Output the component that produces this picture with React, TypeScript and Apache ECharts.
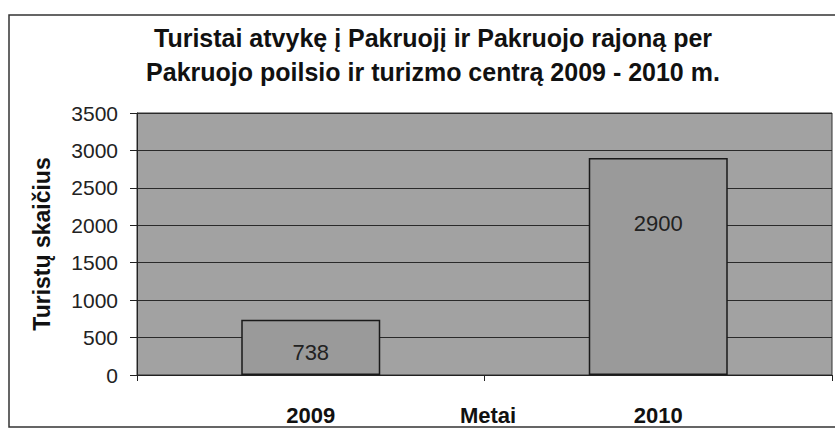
import React, { useEffect, useRef } from "react";
import * as echarts from "echarts";

const categories = ["2009", "2010"];
const tourists = [738, 2900];
const yTicks = [0, 500, 1000, 1500, 2000, 2500, 3000, 3500];
const titleLines = [
  "Turistai atvykę į Pakruojį ir Pakruojo rajoną per",
  "Pakruojo poilsio ir turizmo centrą 2009 - 2010 m.",
];
const xName = "Metai";
const yName = "Turistų skaičius";

const FONT = '"Liberation Sans", Arial, sans-serif';
const labelPositions = [["50%", "60%"], ["50%", "30%"]];

export default function App() {
  const ref = useRef<HTMLDivElement>(null);
  useEffect(() => {
    if (!ref.current) return;
    const chart = echarts.init(ref.current, undefined, { renderer: "svg" });
    chart.setOption({
      animation: false,
      backgroundColor: "#ffffff",
      title: {
        text: titleLines.join("\n"),
        left: 433,
        top: 21,
        padding: 0,
        textAlign: "center",
        textStyle: {
          fontFamily: FONT,
          fontWeight: "bold",
          fontSize: 25,
          lineHeight: 34,
          color: "#111",
        },
      },
      graphic: [
        {
          type: "rect",
          silent: true,
          z: -1,
          shape: { x: 9, y: 15, width: 840, height: 412 },
          style: { fill: "none", stroke: "#333", lineWidth: 1.5 },
        },
        {
          type: "text",
          silent: true,
          x: 488,
          y: 415,
          style: {
            text: xName,
            align: "center",
            verticalAlign: "middle",
            fontFamily: "Liberation Sans",
            fontWeight: "bold",
            fontSize: 22,
            fill: "#111",
          },
        },
      ],
      grid: {
        left: 137,
        top: 113,
        right: 3,
        bottom: 55,
        outerBoundsMode: "none",
        containLabel: false,
        show: true,
        backgroundColor: "#a2a2a2",
        borderColor: "#333",
        borderWidth: 1,
      },
      xAxis: {
        type: "category",
        data: categories,
        axisLine: { lineStyle: { color: "#222", width: 1 } },
        axisTick: { show: true, alignWithLabel: false, length: 6, lineStyle: { color: "#222" } },
        axisLabel: {
          margin: 29,
          fontFamily: FONT,
          fontWeight: "bold",
          fontSize: 22,
          color: "#111",
        },
      },
      yAxis: {
        type: "value",
        min: 0,
        max: 3500,
        interval: 500,
        name: yName,
        nameLocation: "middle",
        nameGap: 84,
        nameTextStyle: { fontFamily: FONT, fontWeight: "bold", fontSize: 23, color: "#111" },
        axisLine: { show: true, lineStyle: { color: "#222", width: 1 } },
        axisTick: { show: true, length: 7, lineStyle: { color: "#222" } },
        axisLabel: {
          margin: 19,
          fontFamily: FONT,
          fontSize: 21,
          color: "#222",
          formatter: (v: number) => (yTicks.includes(v) ? String(v) : ""),
        },
        splitLine: { show: true, lineStyle: { color: "#2a2a2a", width: 1 } },
      },
      series: [
        {
          type: "bar",
          data: tourists.map((v, i) => ({
            value: v,
            label: { position: labelPositions[i] },
          })),
          barWidth: "40%",
          itemStyle: { color: "#9a9a9a", borderColor: "#1a1a1a", borderWidth: 1.5 },
          label: {
            show: true,
            align: "center",
            verticalAlign: "middle",
            fontFamily: FONT,
            fontSize: 22,
            color: "#222",
          },
        },
      ],
    });
    return () => chart.dispose();
  }, []);
  return (
    <div
      ref={ref}
      style={{ position: "absolute", left: 0, top: 0, width: 835, height: 430 }}
    />
  );
}
